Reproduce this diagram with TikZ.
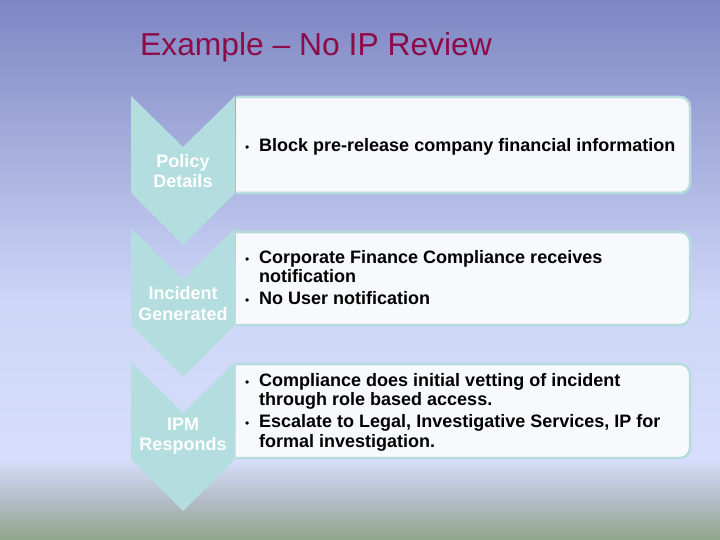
\documentclass[tikz,border=0pt]{standalone}
\usepackage{fontspec}
\setmainfont{Liberation Sans}
\definecolor{bgA}{HTML}{7E87C3}
\definecolor{bgB}{HTML}{CDD6F6}
\definecolor{bgC}{HTML}{D6DEFB}
\definecolor{bgM}{HTML}{B3BCC6}
\definecolor{bgD}{HTML}{8FA689}
\definecolor{chevfill}{HTML}{B3DDDE}
\definecolor{boxline}{HTML}{B6DCDE}
\definecolor{boxfill}{HTML}{F8F9FD}
\definecolor{titlered}{HTML}{8C0C48}
\newcommand{\bul}{{\fontsize{12}{12}\selectfont\mdseries •}}
\tikzset{
  chev/.style={fill=chevfill},
  infobox/.style={fill=boxfill, draw=boxline, line width=2.5pt},
  chevlabel/.style={text=white, font=\fontsize{18}{20.5}\selectfont\bfseries, align=center, inner sep=0pt},
  btxt/.style={text=black, font=\fontsize{18}{19.5}\selectfont\bfseries, anchor=base west, inner sep=0pt},
  ttl/.style={text=titlered, font=\fontsize{31.8}{34}\selectfont, anchor=base west, inner sep=0pt}
}
\begin{document}
\begin{tikzpicture}[x=1pt,y=-1pt]
\useasboundingbox (0,0) rectangle (720,540);
% background
\shade[top color=bgA, bottom color=bgB] (0,0) rectangle (720,300.5);
\shade[top color=bgB, bottom color=bgC] (0,300) rectangle (720,460.5);
\shade[top color=bgC, bottom color=bgD, middle color=bgM] (0,460) rectangle (720,540);
% title
\node[ttl] (title) at (140,55.5) {Example – No IP Review};
% chevrons
\foreach \T in {96,228,362}{
  \fill[chev] (131,\T) -- (183,\T+51) -- (235,\T) -- (235,\T+97) -- (183,\T+149) -- (131,\T+97) -- cycle;
}
% boxes
\foreach \T/\B in {97/193,232/325,364/458}{
  \draw[infobox] (236,\T) -- (680,\T) arc[start angle=-90,end angle=0,radius=10] -- (690,\B-10) arc[start angle=0,end angle=90,radius=10] -- (236,\B);
}
% chevron labels
\node[chevlabel] (l1) at (183,171) {Policy\\Details};
\node[chevlabel] (l2) at (183,303.5) {Incident\\Generated};
\node[chevlabel] (l3) at (183,436) {IPM\\Responds};
% box texts
\node[btxt] (t1) at (245,152) {\begin{tabular}[t]{@{}p{14pt}@{}l@{}}\bul & Block pre-release company financial information\end{tabular}};
\node[btxt] (t2) at (245,263) {\begin{tabular}[t]{@{}p{14pt}@{}l@{}}\bul & Corporate Finance Compliance receives\\ & notification\\[2.5pt] \bul & No User notification\end{tabular}};
\node[btxt] (t3) at (245,386) {\begin{tabular}[t]{@{}p{14pt}@{}l@{}}\bul & Compliance does initial vetting of incident\\ & through role based access.\\[2.5pt] \bul & Escalate to Legal, Investigative Services, IP for\\ & formal investigation.\end{tabular}};
\end{tikzpicture}
\end{document}
